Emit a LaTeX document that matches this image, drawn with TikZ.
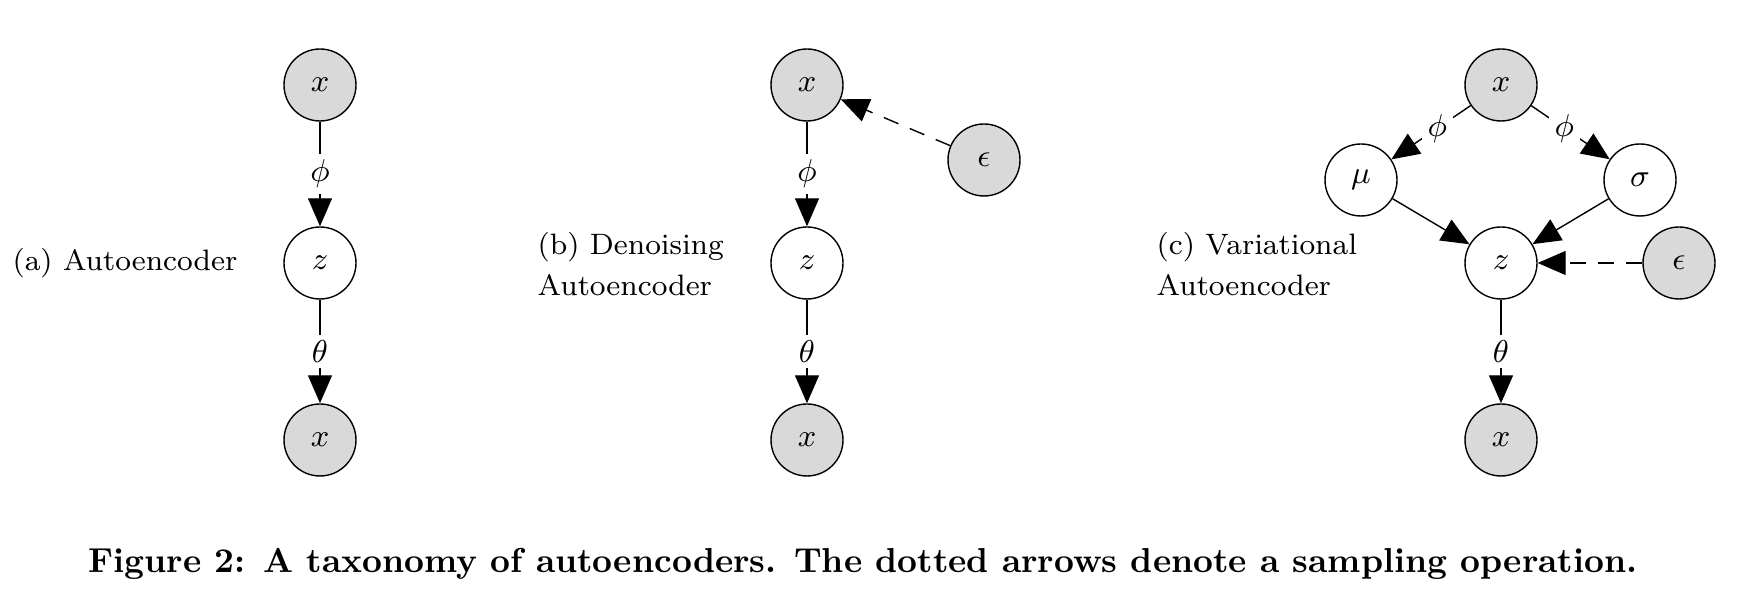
\documentclass[tikz,border=0pt]{standalone}
\usepackage{amsmath}
\usetikzlibrary{arrows.meta}

\begin{document}
\begin{tikzpicture}[
    obs/.style={circle, draw, fill=black!15, minimum size=7.2mm, inner sep=0pt, font=\fontsize{9.5}{10}\selectfont},
    lat/.style={circle, draw, fill=white, minimum size=7.2mm, inner sep=0pt, font=\fontsize{9.5}{10}\selectfont},
    arr/.style={-{Triangle[length=2.8mm, width=2.4mm]}},
    samp/.style={arr, dash pattern=on 4.5pt off 3.5pt},
    wlab/.style={fill=white, inner sep=1.6pt, font=\fontsize{9.5}{10}\selectfont},
    title/.style={align=left, inner sep=0pt, font=\fontsize{8.4}{11.6}\selectfont}
  ]
        \useasboundingbox (0,0) rectangle (17.40,6.04);
      \def\xa{3.20};
      \def\xb{8.07};
      \def\xc{15.01};
      % (a)
        \node [obs] (xa) at (\xa,5.19) {$x$};
        \node [lat] (za) at (\xa,3.41) {$z$};
        \node [obs] (ya) at (\xa,1.64) {$x$};
        \node [title, anchor=east] (ta) at (2.38,3.41) {(a) Autoencoder};
      \draw [arr] (xa) -- node [wlab] {$\phi$} (za);
      \draw [arr] (za) -- node [wlab] {$\theta$} (ya);
      % (b)
        \node [obs] (xb) at (\xb,5.19) {$x$};
        \node [lat] (zb) at (\xb,3.41) {$z$};
        \node [obs] (yb) at (\xb,1.64) {$x$};
        \node [obs] (eb) at (9.84,4.44) {$\epsilon$};
        \node [title, anchor=west] (tb) at (5.37,3.40) {(b) Denoising\\Autoencoder};
      \draw [arr] (xb) -- node [wlab] {$\phi$} (zb);
      \draw [arr] (zb) -- node [wlab] {$\theta$} (yb);
      \draw [samp] (eb) -- (xb);
      % (c)
        \node [obs] (xc) at (\xc,5.19) {$x$};
        \node [lat] (mc) at (13.61,4.24) {$\mu$};
        \node [lat] (sc) at (16.40,4.24) {$\sigma$};
        \node [lat] (zc) at (\xc,3.41) {$z$};
        \node [obs] (ec) at (16.79,3.41) {$\epsilon$};
        \node [obs] (yc) at (\xc,1.64) {$x$};
        \node [title, anchor=west] (tc) at (11.56,3.40) {(c) Variational\\Autoencoder};
      \draw [arr] (xc) -- node [wlab, pos=0.42] {$\phi$} (mc);
      \draw [arr] (xc) -- node [wlab, pos=0.42] {$\phi$} (sc);
      \draw [arr] (mc) -- (zc);
      \draw [arr] (sc) -- (zc);
      \draw [samp] (ec) -- (zc);
      \draw [arr] (zc) -- node [wlab] {$\theta$} (yc);
      % caption
        \node [font=\fontsize{9.85}{11}\selectfont\bfseries] (caption) at (8.63,0.40) {Figure 2: A taxonomy of autoencoders. The dotted arrows denote a sampling operation.};
    \end{tikzpicture}
\end{document}
